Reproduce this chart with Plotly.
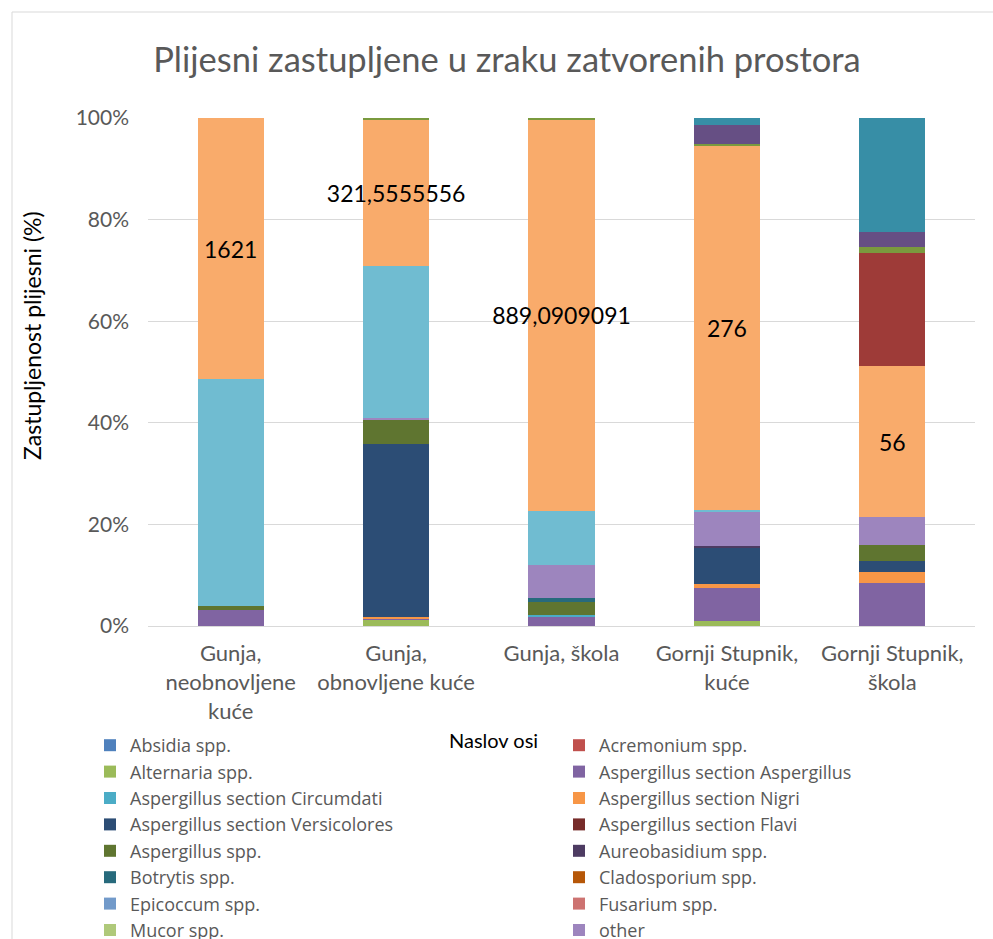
import plotly.graph_objects as go

categories = ["Gunja,<br>neobnovljene<br>kuće", "Gunja,<br>obnovljene kuće", "Gunja, škola",
              "Gornji Stupnik,<br>kuće", "Gornji Stupnik,<br>škola"]

# Shares (%) of each mould group per location
absidia        = [0, 0, 0, 0, 0]
acremonium     = [0, 0, 0, 0, 0]
alternaria     = [0, 1.1, 0, 0.9, 0]
asp_aspergillus= [3.1, 0.4, 1.8, 6.6, 8.5]
asp_circumdati = [0, 0, 0.4, 0, 0]
asp_nigri      = [0, 0.3, 0, 0.8, 2.2]
asp_versicol   = [0, 33.9, 0, 7.2, 2.0]
asp_flavi      = [0, 0, 0, 0, 0]
asp_spp        = [0.8, 4.9, 2.6, 0, 3.3]
aureobasidium  = [0, 0, 0, 0.3, 0]
botrytis       = [0, 0, 0.7, 0, 0]
cladosporium   = [0, 0, 0, 0, 0]
epicoccum      = [0, 0, 0, 0, 0]
fusarium       = [0, 0, 0, 0, 0]
mucor          = [0, 0, 0, 0, 0]
other          = [0, 0.3, 6.6, 6.6, 5.4]
series17       = [44.7, 29.8, 10.5, 0.4, 0]
series18       = [51.4, 28.7, 77.1, 71.6, 29.7]
series20       = [0, 0, 0, 0, 22.4]
series21       = [0, 0.4, 0.3, 0.45, 1.2]
series22       = [0, 0, 0, 3.7, 2.9]
series23       = [0, 0, 0, 1.4, 22.4]

series18_labels = ["1621", "321,5555556", "889,0909091", "276", "56"]

y_tick_vals = [0, 20, 40, 60, 80, 100]
y_tick_text = ["0%", "20%", "40%", "60%", "80%", "100%"]

series = [
    ("Absidia spp.", absidia, "#4F81BD", True),
    ("Acremonium spp.", acremonium, "#C0504D", True),
    ("Alternaria spp.", alternaria, "#9BBB59", True),
    ("Aspergillus section Aspergillus", asp_aspergillus, "#8064A2", True),
    ("Aspergillus section Circumdati", asp_circumdati, "#4BACC6", True),
    ("Aspergillus section Nigri", asp_nigri, "#F79646", True),
    ("Aspergillus section Versicolores", asp_versicol, "#2C4D75", True),
    ("Aspergillus section Flavi", asp_flavi, "#772C2A", True),
    ("Aspergillus spp.", asp_spp, "#5F7530", True),
    ("Aureobasidium spp.", aureobasidium, "#4D3B62", True),
    ("Botrytis spp.", botrytis, "#276A7C", True),
    ("Cladosporium spp.", cladosporium, "#B65708", True),
    ("Epicoccum spp.", epicoccum, "#729ACA", True),
    ("Fusarium spp.", fusarium, "#CD7371", True),
    ("Mucor spp.", mucor, "#AFC97A", True),
    ("other", other, "#9D85BE", True),
    ("Serija 17", series17, "#70BCD1", False),
    ("Serija 18", series18, "#F9AB6B", False),
    ("Serija 20", series20, "#9E3B38", False),
    ("Serija 21", series21, "#7A9A3E", False),
    ("Serija 22", series22, "#664F84", False),
    ("Serija 23", series23, "#378EA6", False),
]

FONT = "Lato"
LEG_FONT = "Open Sans"
GREY = "#595959"

fig = go.Figure()
legend_i = 0
for name, vals, color, show in series:
    kw = {}
    if show:
        kw["legend"] = "legend" if legend_i % 2 == 0 else "legend2"
        legend_i += 1
    if name == "Serija 18":
        kw.update(text=series18_labels, textposition="inside", insidetextanchor="middle",
                  textangle=0, constraintext="none",
                  textfont=dict(family=FONT, size=23, color="#000000"))
    fig.add_trace(go.Bar(x=categories, y=vals, name=name, marker_color=color,
                         marker_line_width=0, showlegend=show, **kw))

W, H = 993, 939
L, R, T, B = 148, 18, 118, 313
pw, ph = W - L - R, H - T - B

def px_x(x):
    return (x - L) / pw

def px_y(y):
    return (H - B - y) / ph

leg_common = dict(xref="container", yref="container", y=1 - 727 / H,
                  xanchor="left", yanchor="top", orientation="v", traceorder="normal",
                  font=dict(family=LEG_FONT, size=18, color=GREY), itemwidth=30,
                  bgcolor="rgba(0,0,0,0)")

fig.update_layout(
    width=W, height=H,
    margin=dict(l=L, r=R, t=T, b=B, autoexpand=False),
    barmode="stack", barnorm="percent", bargap=0.6,
    paper_bgcolor="white", plot_bgcolor="white",
    font=dict(family=FONT, color=GREY),
    title=dict(text="Plijesni zastupljene u zraku zatvorenih prostora",
               x=507 / W, xanchor="center", y=1 - 60 / H, yanchor="middle",
               font=dict(family=FONT, size=34.5, color=GREY)),
    xaxis=dict(showgrid=False, showline=True, linecolor="#D9D9D9", linewidth=1,
               ticks="", ticklabelstandoff=8,
               tickfont=dict(family=FONT, size=22, color=GREY)),
    yaxis=dict(range=[0, 100], tickmode="array", tickvals=y_tick_vals, ticktext=y_tick_text,
               showgrid=True, gridcolor="#D9D9D9", gridwidth=1, zeroline=False,
               ticks="", ticklabelstandoff=18,
               tickfont=dict(family=FONT, size=21, color=GREY)),
    legend=dict(x=90 / W, **leg_common),
    legend2=dict(x=559 / W, **leg_common),
    annotations=[
        dict(text="Zastupljenost plijesni (%)", xref="paper", yref="paper",
             x=px_x(32), y=px_y(336), textangle=-90, showarrow=False,
             xanchor="center", yanchor="middle",
             font=dict(family=FONT, size=23, color="#000000")),
        dict(text="Naslov osi", xref="paper", yref="paper",
             x=px_x(493), y=px_y(740), showarrow=False,
             xanchor="center", yanchor="middle",
             font=dict(family=FONT, size=20, color="#000000")),
    ],
    shapes=[
        dict(type="rect", xref="paper", yref="paper",
             x0=px_x(12), x1=px_x(1100), y0=px_y(1100), y1=px_y(12),
             line=dict(color="#D9D9D9", width=1), fillcolor="rgba(0,0,0,0)", layer="below"),
    ],
)

fig.write_html("out.html", config={"displayModeBar": False},
               post_script="document.body.style.margin='0';")
